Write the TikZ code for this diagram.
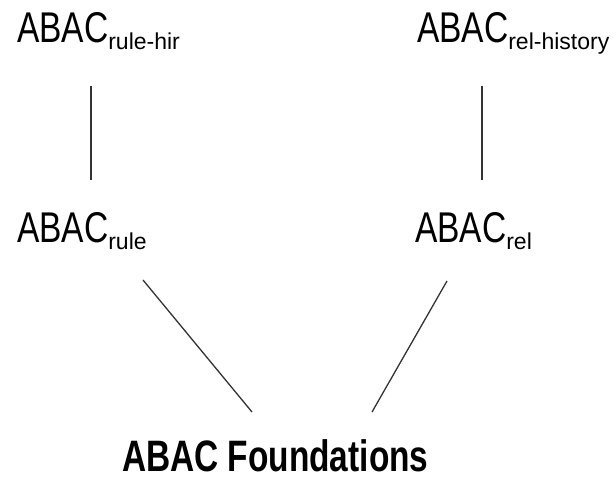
\documentclass[tikz,border=0pt]{standalone}
\usepackage{fontspec}
\newfontfamily\mainf[FakeStretch=0.78]{Liberation Sans}
\newfontfamily\subf{Liberation Sans}
\newfontfamily\boldf[FakeStretch=0.76]{Liberation Sans Bold}
\newcommand{\abacl}[1]{{\mainf\fontsize{43}{43}\selectfont ABAC}\raisebox{-7pt}{\subf\fontsize{23}{23}\selectfont #1}}
\tikzset{
  lbl/.style={inner sep=0pt, outer sep=0pt, anchor=base west},
  conn/.style={line width=1.3pt, draw=black!80}
}
\begin{document}
\begin{tikzpicture}[x=1pt,y=1pt]
\useasboundingbox[fill=white] (0,0) rectangle (616,482);
\node[lbl] (hir)  at (17,439)  {\abacl{rule-hir}};
\node[lbl] (hist) at (417,439) {\abacl{rel-history}};
\node[lbl] (rule) at (17,239)  {\abacl{rule}};
\node[lbl] (rel)  at (415,239) {\abacl{rel}};
\node[lbl] (found) at (122,10)  {\boldf\fontsize{44}{44}\selectfont ABAC Foundations};
\draw[conn] ([shift={(74,-43)}]hir.base west) -- ([shift={(74,63)}]rule.base west);
\draw[conn] ([shift={(65,-43)}]hist.base west) -- ([shift={(67,63)}]rel.base west);
\draw[conn] ([shift={(126,-37)}]rule.base west) -- ([shift={(130,60)}]found.base west);
\draw[conn] ([shift={(32,-38)}]rel.base west) -- ([shift={(250,60)}]found.base west);
\end{tikzpicture}
\end{document}
